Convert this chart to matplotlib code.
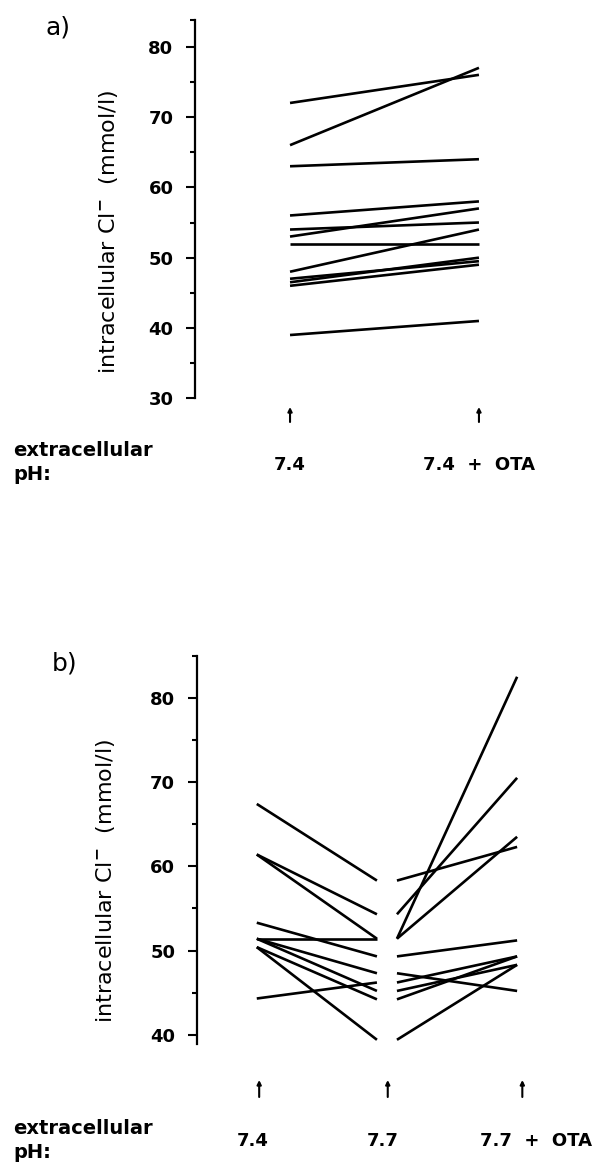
import matplotlib
matplotlib.use("Agg")
import matplotlib.pyplot as plt
from matplotlib.transforms import blended_transform_factory

# panel a: pH 7.4 -> pH 7.4 + OTA
a_ph74 = [72, 66, 63, 56, 54, 53, 52, 48, 47, 46.5, 46, 39]
a_ph74_ota = [76, 77, 64, 58, 55, 57, 52, 54, 49.5, 50, 49, 41]
a_labels = ["7.4", "7.4  +  OTA"]

# panel b: pH 7.4 -> 7.7 -> 7.7 + OTA
b_ph74 = [67.4, 61.4, 61.4, 51.4, 53.3, 51.4, 44.3, 51.4, 50.4, 50.4]
b_ph77 = [58.3, 54.3, 51.4, 51.4, 49.3, 47.3, 46.2, 45.2, 44.2, 39.4]
b_ph77_ota = [62.3, 70.5, 82.5, 63.5, 51.2, 45.2, 49.3, 48.3, 49.3, 48.3]
b_labels = ["7.4", "7.7", "7.7  +  OTA"]

W, H = 602, 1163
fig = plt.figure(figsize=(W / 100, H / 100), dpi=100)

FONT = "DejaVu Sans"
YLABEL = r"intracellular Cl$^{\mathbf{-}}$  (mmol/l)"


def fy(y):
    # pixel row -> figure fraction
    return 1 - y / H


def setup(ax, ylim, majors, minors):
    ax.set_ylim(*ylim)
    for s in ["top", "right", "bottom"]:
        ax.spines[s].set_visible(False)
    ax.spines["left"].set_linewidth(1.6)
    ax.set_xticks([])
    ax.set_yticks(majors)
    ax.set_yticks(minors, minor=True)
    ax.tick_params(axis="y", which="major", length=6.5, width=1.5, pad=9,
                   labelsize=13)
    ax.tick_params(axis="y", which="minor", length=3.5, width=1.5)
    for t in ax.get_yticklabels():
        t.set_fontweight("bold")
        t.set_family(FONT)


def bottom_labels(ax, xs, labels, arrow_x, arrow_y, label_y, ext_y):
    tr = blended_transform_factory(ax.transData, fig.transFigure)
    for x in arrow_x:
        ax.annotate("", xy=(x, fy(arrow_y[0])), xytext=(x, fy(arrow_y[1])),
                    xycoords=tr, textcoords=tr, annotation_clip=False,
                    arrowprops=dict(arrowstyle="-|>", lw=1.5, color="k",
                                    mutation_scale=6, shrinkA=0, shrinkB=0))
    for x, lab in zip(xs, labels):
        ax.text(x, fy(label_y), lab, transform=tr, ha="center", va="center",
                fontsize=13, fontweight="bold", family=FONT)
    fig.text(13 / W, fy(ext_y[0]), "extracellular", ha="left", va="center",
             fontsize=14, fontweight="bold", family=FONT)
    fig.text(13 / W, fy(ext_y[1]), "pH:", ha="left", va="center",
             fontsize=14, fontweight="bold", family=FONT)


# ---- panel a ----
ax1 = fig.add_axes([195 / W, fy(398.3), 365 / W, 378.3 / H])
ax1.set_xlim(-0.503, 1.429)
setup(ax1, (30, 83.8), [30, 40, 50, 60, 70, 80], [35, 45, 55, 65, 75, 83.8])
for y0, y1 in zip(a_ph74, a_ph74_ota):
    ax1.plot([0, 1], [y0, y1], color="k", lw=1.9, solid_capstyle="butt")
ax1.set_ylabel(YLABEL, fontsize=16, family=FONT)
ax1.yaxis.set_label_coords(-0.205, 0.44)
bottom_labels(ax1, [0, 1], a_labels, [0, 1], (407, 422), 465, (450, 475))
fig.text(58 / W, fy(27), "a)", ha="center", va="center", fontsize=18,
         family=FONT)

# ---- panel b ----
gap = 1 / 6
ax2 = fig.add_axes([196.7 / W, fy(1044), 383.3 / W, 388.3 / H])
ax2.set_xlim(-0.5, 2.69)
setup(ax2, (38.9, 85), [40, 50, 60, 70, 80], [45, 55, 65, 75, 85])
for y0, y1 in zip(b_ph74, b_ph77):
    ax2.plot([0, 1], [y0, y1], color="k", lw=1.9, solid_capstyle="butt")
for y0, y1 in zip(b_ph77, b_ph77_ota):
    ax2.plot([1 + gap, 2 + gap], [y0, y1], color="k", lw=1.9,
             solid_capstyle="butt")
ax2.set_ylabel(YLABEL, fontsize=16, family=FONT)
ax2.yaxis.set_label_coords(-0.208, 0.42)
bottom_labels(ax2, [-0.03, 1.05, 2.32], b_labels, [0.02, 1.09, 2.21],
              (1080, 1097), 1141, (1128, 1153))
fig.text(65 / W, fy(663), "b)", ha="center", va="center", fontsize=18,
         family=FONT)

fig.savefig("out.png", dpi=100, facecolor="white")
